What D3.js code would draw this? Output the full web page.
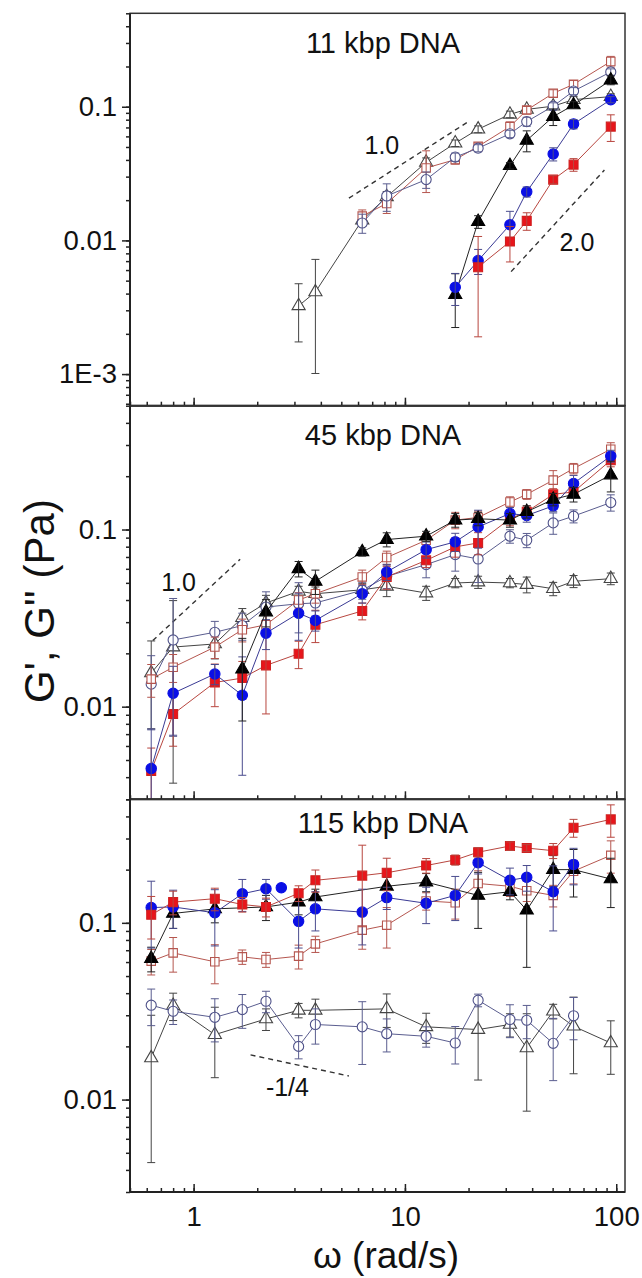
<!DOCTYPE html>
<html>
<head>
<meta charset="utf-8">
<script src="https://d3js.org/d3.v7.min.js"></script>
<style>
  body { margin: 0; background: #fff; }
  svg { display: block; font-family: "Liberation Sans", Arial, sans-serif; }
</style>
</head>
<body>
<div id="chart"></div>
<script>
// ---- data: angular frequency (rad/s), G' / G'' (Pa), error (Pa) ----
const wAll = [0.63, 0.8, 1.26, 1.7, 2.2, 3.14, 3.77, 6.28, 8.2, 12.6, 17.3, 22.2, 31.4, 37.7, 50.3, 62.8, 94.2];

// 11 kbp
const w11_openTri = [3.14, 3.77, 6.28, 8.2, 12.6, 17.3, 22.2, 31.4, 37.7, 50.3, 62.8, 94.2];
const w11_open    = [6.28, 8.2, 12.6, 17.3, 22.2, 31.4, 37.7, 50.3, 62.8, 94.2];
const w11_fill    = [17.3, 22.2, 31.4, 37.7, 50.3, 62.8, 94.2];
const w11_red     = [22.2, 31.4, 37.7, 50.3, 62.8, 94.2];
const g11_openTri = [0.00324, 0.00411, 0.0142, 0.0212, 0.0384, 0.0534, 0.0679, 0.0877, 0.0955, 0.101, 0.113, 0.119];
const e11_openTri = [0.0015, 0.0031, 0.0015, 0.002, 0.003, 0.003, 0.004, 0.005, 0.005, 0.006, 0.006, 0.006];
const g11_redOpen = [0.0152, 0.0189, 0.0348, 0.0402, 0.0505, 0.071, 0.0944, 0.126, 0.147, 0.218];
const e11_redOpen = [0.0017, 0.003, 0.012, 0.003, 0.003, 0.006, 0.006, 0.008, 0.01, 0.02];
const g11_blueOpen = [0.0135, 0.0215, 0.0285, 0.042, 0.049, 0.0627, 0.0774, 0.101, 0.131, 0.182];
const e11_blueOpen = [0.0022, 0.005, 0.004, 0.003, 0.003, 0.004, 0.006, 0.006, 0.008, 0.01];
const g11_blackTri = [0.00393, 0.0138, 0.0362, 0.056, 0.0843, 0.103, 0.158];
const e11_blackTri = [0.0017, 0.0015, 0.002, 0.01, 0.012, 0.006, 0.012];
const g11_blue = [0.00446, 0.00706, 0.0131, 0.0231, 0.0443, 0.0743, 0.113];
const e11_blue = [0.0012, 0.0015, 0.0034, 0.002, 0.005, 0.006, 0.006];
const g11_red = [0.0063, 0.0098, 0.014, 0.0285, 0.0369, 0.071];
const e11_red = [0.0044, 0.0029, 0.0021, 0.002, 0.004, 0.016];

// 45 kbp
const w45_blackTri = [1.7, 2.2, 3.14, 3.77, 6.28, 8.2, 12.6, 17.3, 22.2, 31.4, 37.7, 50.3, 62.8, 94.2];
const g45_red = [0.00434, 0.00908, 0.0137, 0.0145, 0.0171, 0.0199, 0.029, 0.0347, 0.054, 0.067, 0.0798, 0.084, 0.115, 0.126, 0.158, 0.163, 0.246];
const e45_red = [0.0015, 0.0031, 0.0037, 0.0035, 0.008, 0.0035, 0.006, 0.0038, 0.008, 0.006, 0.01, 0.012, 0.01, 0.01, 0.012, 0.01, 0.02];
const g45_redOpen = [0.0143, 0.0167, 0.0217, 0.0272, 0.029, 0.040, 0.0434, 0.054, 0.0695, 0.087, 0.113, 0.117, 0.143, 0.158, 0.19, 0.221, 0.284];
const e45_redOpen = [0.003, 0.003, 0.003, 0.004, 0.004, 0.004, 0.005, 0.005, 0.006, 0.008, 0.012, 0.01, 0.01, 0.01, 0.025, 0.015, 0.025];
const g45_blue = [0.00448, 0.0119, 0.0153, 0.0116, 0.026, 0.0337, 0.0307, 0.0434, 0.0576, 0.077, 0.0852, 0.1035, 0.123, 0.120, 0.136, 0.182, 0.26];
const e45_blue = [0.003, 0.005, 0.002, 0.0075, 0.005, 0.01, 0.004, 0.005, 0.006, 0.008, 0.01, 0.025, 0.01, 0.01, 0.01, 0.02, 0.02];
const g45_blackTri = [0.0163, 0.0342, 0.060, 0.051, 0.0748, 0.0878, 0.0917, 0.113, 0.115, 0.113, 0.126, 0.148, 0.158, 0.203];
const e45_blackTri = [0.008, 0.006, 0.006, 0.008, 0.004, 0.008, 0.006, 0.01, 0.01, 0.01, 0.01, 0.012, 0.015, 0.04];
const g45_blueOpen = [0.0134, 0.0238, 0.0263, 0.0287, 0.0365, 0.0381, 0.0385, 0.0454, 0.0544, 0.0634, 0.0722, 0.0682, 0.0917, 0.087, 0.109, 0.119, 0.142];
const e45_blueOpen = [0.006, 0.017, 0.004, 0.005, 0.008, 0.012, 0.006, 0.005, 0.008, 0.01, 0.014, 0.018, 0.008, 0.008, 0.015, 0.01, 0.015];
const g45_openTri = [0.0155, 0.0217, 0.0226, 0.0318, 0.0385, 0.0448, 0.0434, 0.0457, 0.0478, 0.0438, 0.0499, 0.0505, 0.0499, 0.0489, 0.0463, 0.051, 0.0528];
const e45_openTri = [0.008, 0.018, 0.004, 0.004, 0.004, 0.003, 0.004, 0.004, 0.006, 0.004, 0.003, 0.004, 0.003, 0.005, 0.004, 0.004, 0.004];

// 115 kbp
const w115_blue = [0.63, 0.8, 1.26, 1.7, 2.2, 3.14, 3.77, 6.28, 8.2, 12.6, 17.3, 22.2, 31.4, 37.7, 50.3, 62.8];
const w115_blueLone = [2.6];
const w115_tri  = [0.63, 0.8, 1.26, 2.2, 3.14, 3.77, 8.2, 12.6, 22.2, 31.4, 37.7, 50.3, 62.8, 94.2];
const w115_circ = [0.63, 0.8, 1.26, 1.7, 2.2, 3.14, 3.77, 6.28, 8.2, 12.6, 17.3, 22.2, 31.4, 37.7, 50.3, 62.8];
const g115_red = [0.111, 0.131, 0.137, 0.127, 0.123, 0.147, 0.174, 0.185, 0.192, 0.211, 0.227, 0.251, 0.272, 0.265, 0.256, 0.345, 0.385];
const e115_red = [0.03, 0.02, 0.02, 0.012, 0.015, 0.015, 0.025, 0.09, 0.04, 0.02, 0.015, 0.015, 0.015, 0.012, 0.025, 0.04, 0.08];
const g115_redOpen = [0.0607, 0.0676, 0.0602, 0.0642, 0.062, 0.0648, 0.076, 0.0909, 0.097, 0.133, 0.130, 0.167, 0.161, 0.152, 0.143, 0.196, 0.241];
const e115_redOpen = [0.01, 0.015, 0.015, 0.006, 0.006, 0.01, 0.008, 0.02, 0.025, 0.015, 0.025, 0.03, 0.02, 0.02, 0.02, 0.03, 0.05];
const g115_blue = [0.122, 0.123, 0.114, 0.146, 0.156, 0.102, 0.120, 0.115, 0.139, 0.129, 0.143, 0.219, 0.174, 0.181, 0.150, 0.214];
const e115_blue = [0.05, 0.03, 0.04, 0.03, 0.02, 0.03, 0.03, 0.04, 0.02, 0.03, 0.04, 0.03, 0.03, 0.03, 0.06, 0.05];
const g115_blueLone = [0.158];
const e115_blueLone = [0];
const g115_blackTri = [0.0628, 0.113, 0.120, 0.123, 0.131, 0.140, 0.161, 0.170, 0.143, 0.150, 0.118, 0.200, 0.200, 0.177];
const e115_blackTri = [0.01, 0.02, 0.02, 0.02, 0.02, 0.015, 0.02, 0.02, 0.05, 0.015, 0.062, 0.04, 0.06, 0.055];
const g115_blueOpen = [0.0342, 0.0316, 0.0292, 0.0323, 0.036, 0.020, 0.0266, 0.0258, 0.0236, 0.0228, 0.0209, 0.0365, 0.0284, 0.0281, 0.0208, 0.0298];
const e115_blueOpen = [0.008, 0.005, 0.008, 0.007, 0.005, 0.003, 0.006, 0.01, 0.005, 0.003, 0.005, 0.003, 0.006, 0.006, 0.008, 0.008];
const g115_openTri = [0.0172, 0.034, 0.0233, 0.0286, 0.032, 0.032, 0.0326, 0.0258, 0.0249, 0.0266, 0.0196, 0.0316, 0.026, 0.0209];
const e115_openTri = [0.0128, 0.006, 0.01, 0.004, 0.003, 0.005, 0.007, 0.005, 0.012, 0.004, 0.011, 0.003, 0.012, 0.007];

// slope guides [[w1, g1], [w2, g2]] and their labels
const guide11a = [[5.43, 0.0207], [20.3, 0.0787]];
const guide11b = [[31.8, 0.00584], [87.9, 0.0336]];
const guide45  = [[0.641, 0.0236], [1.66, 0.0679]];
const guide115 = [[1.86, 0.0179], [5.43, 0.0136]];
const note11a = [7.78, 0.0518, "1.0"];
const note11b = [65.2, 0.00973, "2.0"];
const note45  = [0.849, 0.0501, "1.0"];
const note115 = [2.78, 0.0118, "-1/4"];

const xTickVals = [1, 10, 100];
const xTickLabels = ["1", "10", "100"];
const yTicks11 = [0.001, 0.01, 0.1], yLabels11 = ["1E-3", "0.01", "0.1"];
const yTicks45 = [0.01, 0.1], yLabels45 = ["0.01", "0.1"];

// ---- styles ----
const styles = {
  redFill:  { sym: d3.symbolSquare,   size: 80, fill: "#e8151b", stroke: "#d0201f", line: "#b8463f", err: "#b8463f" },
  redOpen:  { sym: d3.symbolSquare,   size: 72, fill: "#fff",    stroke: "#b5564f", line: "#b5564f", err: "#b5564f" },
  blueFill: { sym: d3.symbolCircle,   size: 85, fill: "#0a0fe6", stroke: "#0a0fe6", line: "#3a3a94", err: "#4a4c8e" },
  blueOpen: { sym: d3.symbolCircle,   size: 80, fill: "#fff",    stroke: "#4d5088", line: "#5a5d8f", err: "#5a5d8f" },
  blackTri: { sym: d3.symbolTriangle, size: 75, fill: "#000",    stroke: "#000",    line: "#222",    err: "#222" },
  openTri:  { sym: d3.symbolTriangle, size: 75, fill: "#fff",    stroke: "#444",    line: "#444",    err: "#444" }
};

const W = 642, H = 1278;
const left = 130, right = 625;

const panels = [
  { top: 13.3, bottom: 405.7, domain: [5.8e-4, 0.5], ticks: yTicks11, labels: yLabels11,
    title: "11 kbp DNA", titleY: 53,
    series: [
      { key: "openTri",  x: w11_openTri, v: g11_openTri,  e: e11_openTri },
      { key: "redOpen",  x: w11_open,    v: g11_redOpen,  e: e11_redOpen },
      { key: "blueOpen", x: w11_open,    v: g11_blueOpen, e: e11_blueOpen },
      { key: "blackTri", x: w11_fill,    v: g11_blackTri, e: e11_blackTri },
      { key: "blueFill", x: w11_fill,    v: g11_blue,     e: e11_blue },
      { key: "redFill",  x: w11_red,     v: g11_red,      e: e11_red }
    ],
    guides: [guide11a, guide11b], notes: [note11a, note11b] },
  { top: 405.7, bottom: 799.3, domain: [0.003, 0.5], ticks: yTicks45, labels: yLabels45,
    title: "45 kbp DNA", titleY: 445,
    series: [
      { key: "openTri",  x: wAll,         v: g45_openTri,  e: e45_openTri },
      { key: "blueOpen", x: wAll,         v: g45_blueOpen, e: e45_blueOpen },
      { key: "redOpen",  x: wAll,         v: g45_redOpen,  e: e45_redOpen },
      { key: "redFill",  x: wAll,         v: g45_red,      e: e45_red },
      { key: "blueFill", x: wAll,         v: g45_blue,     e: e45_blue },
      { key: "blackTri", x: w45_blackTri, v: g45_blackTri, e: e45_blackTri }
    ],
    guides: [guide45], notes: [note45] },
  { top: 799.3, bottom: 1192, domain: [0.003, 0.5], ticks: yTicks45, labels: yLabels45,
    title: "115 kbp DNA", titleY: 833,
    series: [
      { key: "openTri",  x: w115_tri,  v: g115_openTri,  e: e115_openTri },
      { key: "blueOpen", x: w115_circ, v: g115_blueOpen, e: e115_blueOpen },
      { key: "redOpen",  x: wAll,      v: g115_redOpen,  e: e115_redOpen },
      { key: "blackTri", x: w115_tri,  v: g115_blackTri, e: e115_blackTri },
      { key: "blueFill", x: w115_blue, v: g115_blue,     e: e115_blue },
      { key: "blueFill", x: w115_blueLone, v: g115_blueLone, e: e115_blueLone, noLine: true },
      { key: "redFill",  x: wAll,      v: g115_red,      e: e115_red }
    ],
    guides: [guide115], notes: [note115] }
];

const svg = d3.select("#chart").append("svg").attr("width", W).attr("height", H);
svg.append("rect").attr("width", W).attr("height", H).attr("fill", "#fff");

const x = d3.scaleLog().domain([0.5, 110]).range([left, right]);
const xMinor = x.ticks();

panels.forEach((p, i) => {
  const y = d3.scaleLog().domain(p.domain).range([p.bottom, p.top]);
  const g = svg.append("g");

  g.append("clipPath").attr("id", "clip" + i)
    .append("rect").attr("x", left).attr("y", p.top)
    .attr("width", right - left).attr("height", p.bottom - p.top);
  const plot = g.append("g").attr("clip-path", `url(#clip${i})`);

  // slope guides
  p.guides.forEach(gd => {
    plot.append("line")
      .attr("x1", x(gd[0][0])).attr("y1", y(gd[0][1]))
      .attr("x2", x(gd[1][0])).attr("y2", y(gd[1][1]))
      .attr("stroke", "#333").attr("stroke-width", 1.4).attr("stroke-dasharray", "5,4");
  });
  p.notes.forEach(n => {
    g.append("text").attr("x", x(n[0])).attr("y", y(n[1])).attr("dy", "0.35em")
      .attr("text-anchor", "middle").attr("font-size", 25).attr("fill", "#111").text(n[2]);
  });

  // series
  p.series.forEach(s => {
    const st = styles[s.key];
    const pts = s.x.map((w, j) => ({ w: w, v: s.v[j], e: s.e[j] }));
    if (!s.noLine) {
      plot.append("path").datum(pts)
        .attr("d", d3.line().x(d => x(d.w)).y(d => y(d.v)))
        .attr("fill", "none").attr("stroke", st.line).attr("stroke-width", 1);
    }

    plot.selectAll(null).data(pts).enter().append("path")
      .attr("transform", d => `translate(${x(d.w)},${y(d.v)})`)
      .attr("d", d3.symbol().type(st.sym).size(st.size))
      .attr("fill", st.fill).attr("stroke", st.stroke).attr("stroke-width", 1.1);

    const eb = plot.append("g").attr("stroke", st.err).attr("stroke-width", 1).attr("fill", "none");
    pts.filter(d => d.e > 0).forEach(d => {
      const cx = x(d.w);
      const yTop = y(d.v + d.e);
      const hasLow = d.v - d.e > 0;
      const yLow = hasLow ? y(d.v - d.e) : p.bottom + 10;
      eb.append("line").attr("x1", cx).attr("x2", cx).attr("y1", yTop).attr("y2", yLow);
      eb.append("line").attr("x1", cx - 4).attr("x2", cx + 4).attr("y1", yTop).attr("y2", yTop);
      if (hasLow) eb.append("line").attr("x1", cx - 4).attr("x2", cx + 4).attr("y1", yLow).attr("y2", yLow);
    });
  });

  // y axis: minor + major ticks, outward
  const yMinorAxis = g.append("g").attr("transform", `translate(${left},0)`)
    .call(d3.axisLeft(y).tickValues(y.ticks()).tickSize(4).tickFormat(""));
  yMinorAxis.select(".domain").remove();
  const yMajorAxis = g.append("g").attr("transform", `translate(${left},0)`)
    .call(d3.axisLeft(y).tickValues(p.ticks).tickSize(8).tickPadding(5)
      .tickFormat((d, k) => p.labels[k]));
  yMajorAxis.select(".domain").remove();
  yMajorAxis.selectAll("text").attr("font-size", 27.5).attr("fill", "#111")
    .attr("font-family", "Liberation Sans, Arial, sans-serif");

  // x axis: ticks pointing inward
  const xMinorAxis = g.append("g").attr("transform", `translate(0,${p.bottom})`)
    .call(d3.axisBottom(x).tickValues(xMinor).tickSize(-4).tickFormat(""));
  xMinorAxis.select(".domain").remove();
  const xMajorAxis = g.append("g").attr("transform", `translate(0,${p.bottom})`)
    .call(d3.axisBottom(x).tickValues(xTickVals).tickSize(-8).tickPadding(14)
      .tickFormat((d, k) => i === panels.length - 1 ? xTickLabels[k] : ""));
  xMajorAxis.select(".domain").remove();
  xMajorAxis.selectAll("text").attr("font-size", 27.5).attr("fill", "#111")
    .attr("font-family", "Liberation Sans, Arial, sans-serif");
  g.selectAll(".tick line").attr("stroke", "#222").attr("stroke-width", 1.5);

  // frame
  g.append("rect").attr("x", left).attr("y", p.top)
    .attr("width", right - left).attr("height", p.bottom - p.top)
    .attr("fill", "none").attr("stroke", "#333").attr("stroke-width", 1.5);
  g.append("line").attr("x1", left).attr("x2", left).attr("y1", p.top).attr("y2", p.bottom)
    .attr("stroke", "#222").attr("stroke-width", 2);
  g.append("line").attr("x1", left).attr("x2", right).attr("y1", p.bottom).attr("y2", p.bottom)
    .attr("stroke", "#222").attr("stroke-width", 2);

  // panel title
  g.append("text").attr("x", 383).attr("y", p.titleY).attr("text-anchor", "middle")
    .attr("font-size", 29).attr("fill", "#111").text(p.title);
});

// axis titles
svg.append("text").attr("x", 386).attr("y", 1268).attr("text-anchor", "middle")
  .attr("font-size", 37).attr("fill", "#111").text("ω (rad/s)");
svg.append("text").attr("transform", "translate(54,601) rotate(-90)").attr("text-anchor", "middle")
  .attr("font-size", 42).attr("fill", "#111").text("G', G'' (Pa)");
</script>
</body>
</html>
